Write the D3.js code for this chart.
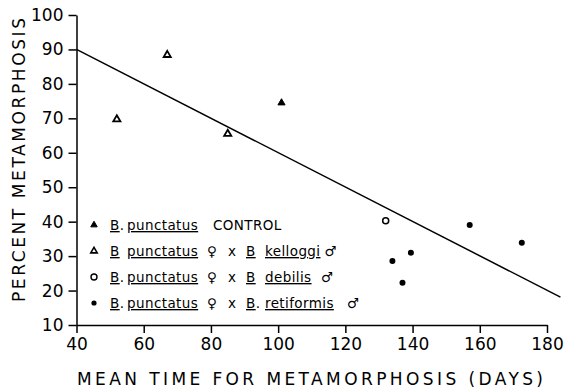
<!DOCTYPE html>
<html>
<head>
<meta charset="utf-8">
<title>Percent metamorphosis vs mean time</title>
<style>
  body { margin: 0; background: #fff; }
  svg { display: block; font-family: "DejaVu Sans", sans-serif; }
  .axis path, .axis line { stroke: #000; stroke-width: 1.5px; }
  .axis text { font-size: 17px; fill: #000; font-family: "DejaVu Sans", sans-serif; }
  .legend text { font-size: 13.5px; fill: #000; letter-spacing: 0.4px; }
  .u { text-decoration: underline; }
</style>
</head>
<body>
<svg width="579" height="391"></svg>
<script src="https://d3js.org/d3.v7.min.js"></script>
<script>
// series: [mean days, percent metamorphosis]
const control = [[101, 74.5]];
const kelloggi = [[52, 69.7], [67, 88.4], [85, 65.5]];
const debilis = [[132, 40.3]];
const retiformis = [[134, 28.6], [137, 22.3], [139.5, 31.0], [157, 39.0], [172.5, 33.9]];
const fitLine = [[40, 90], [184, 18.1]];

const xTicks = [40, 60, 80, 100, 120, 140, 160, 180];
const yTicks = [10, 20, 30, 40, 50, 60, 70, 80, 90, 100];

const svg = d3.select("svg");

const x = d3.scaleLinear().domain([40, 180]).range([76.5, 547]);
const y = d3.scaleLinear().domain([10, 100]).range([325, 15]);

// axes
svg.append("g")
    .attr("class", "axis")
    .attr("transform", "translate(0,325)")
    .call(d3.axisBottom(x).tickValues(xTicks).tickSizeInner(8).tickSizeOuter(0).tickPadding(5));

svg.append("g")
    .attr("class", "axis")
    .attr("transform", "translate(76.5,0)")
    .call(d3.axisLeft(y).tickValues(yTicks).tickSizeInner(8).tickSizeOuter(0).tickPadding(5));

// regression line
svg.append("path")
    .datum(fitLine)
    .attr("fill", "none")
    .attr("stroke", "#000")
    .attr("stroke-width", 1.5)
    .attr("d", d3.line().x(d => x(d[0])).y(d => y(d[1])));

const tri = d3.symbol().type(d3.symbolTriangle).size(22);

// white halos so the line breaks around the open markers
svg.selectAll(".halo")
    .data(kelloggi.concat(debilis))
    .enter().append("circle")
    .attr("cx", d => x(d[0]))
    .attr("cy", d => y(d[1]))
    .attr("r", 5)
    .attr("fill", "#fff");

svg.selectAll(".ctrl")
    .data(control)
    .enter().append("path")
    .attr("d", tri)
    .attr("transform", d => `translate(${x(d[0])},${y(d[1])})`)
    .attr("fill", "#000")
    .attr("stroke", "#000")
    .attr("stroke-width", 1);

svg.selectAll(".kel")
    .data(kelloggi)
    .enter().append("path")
    .attr("d", tri)
    .attr("transform", d => `translate(${x(d[0])},${y(d[1])})`)
    .attr("fill", "#fff")
    .attr("stroke", "#000")
    .attr("stroke-width", 1.8);

svg.selectAll(".deb")
    .data(debilis)
    .enter().append("circle")
    .attr("cx", d => x(d[0]))
    .attr("cy", d => y(d[1]))
    .attr("r", 3)
    .attr("fill", "#fff")
    .attr("stroke", "#000")
    .attr("stroke-width", 1.5);

svg.selectAll(".ret")
    .data(retiformis)
    .enter().append("circle")
    .attr("cx", d => x(d[0]))
    .attr("cy", d => y(d[1]))
    .attr("r", 3)
    .attr("fill", "#000");

// axis titles
svg.append("text")
    .attr("x", 310).attr("y", 385)
    .attr("text-anchor", "middle")
    .attr("font-size", 17)
    .attr("textLength", 466)
    .attr("lengthAdjust", "spacing")
    .text("MEAN TIME FOR METAMORPHOSIS (DAYS)");

svg.append("text")
    .attr("transform", "translate(25,160) rotate(-90)")
    .attr("text-anchor", "middle")
    .attr("font-size", 17)
    .attr("textLength", 284)
    .attr("lengthAdjust", "spacing")
    .text("PERCENT METAMORPHOSIS");

// legend: segments [text, underlined, x start (null = follow on)]
const legendRows = [
    { mark: "ctrl", parts: [["B", 1, 110], [".", 0, null], ["punctatus", 1, 127], ["CONTROL", 0, 213]] },
    { mark: "kel", parts: [["B", 1, 110], ["punctatus", 1, 127], ["\u2640", 0, 207], ["x", 0, 228], ["B", 1, 246], ["kelloggi", 1, 265], ["\u2642", 0, null]] },
    { mark: "deb", parts: [["B", 1, 110], [".", 0, null], ["punctatus", 1, 127], ["\u2640", 0, 207], ["x", 0, 228], ["B", 1, 246], ["debilis", 1, 265], ["\u2642", 0, 321]] },
    { mark: "ret", parts: [["B", 1, 110], [".", 0, null], ["punctatus", 1, 127], ["\u2640", 0, 207], ["x", 0, 228], ["B", 1, 246], [".", 0, null], ["retiformis", 1, 265], ["\u2642", 0, 347]] }
];

const legend = svg.append("g").attr("class", "legend");
legendRows.forEach((row, i) => {
    const cy = 225 + i * 26;
    if (row.mark === "ctrl" || row.mark === "kel") {
        legend.append("path")
            .attr("d", d3.symbol().type(d3.symbolTriangle).size(18))
            .attr("transform", `translate(94,${cy})`)
            .attr("fill", row.mark === "ctrl" ? "#000" : "#fff")
            .attr("stroke", "#000")
            .attr("stroke-width", row.mark === "ctrl" ? 1 : 1.6);
    } else {
        legend.append("circle")
            .attr("cx", 94).attr("cy", cy)
            .attr("r", row.mark === "deb" ? 3 : 2.6)
            .attr("fill", row.mark === "deb" ? "#fff" : "#000")
            .attr("stroke", "#000")
            .attr("stroke-width", row.mark === "deb" ? 1.4 : 0);
    }
    const t = legend.append("text").attr("y", cy + 5);
    row.parts.forEach(p => {
        const s = t.append("tspan").attr("class", p[1] ? "u" : null).text(p[0]);
        if (p[2] !== null) s.attr("x", p[2]);
        else if (p[0] === "\u2642") s.attr("dx", 4);
    });
});
</script>
</body>
</html>
